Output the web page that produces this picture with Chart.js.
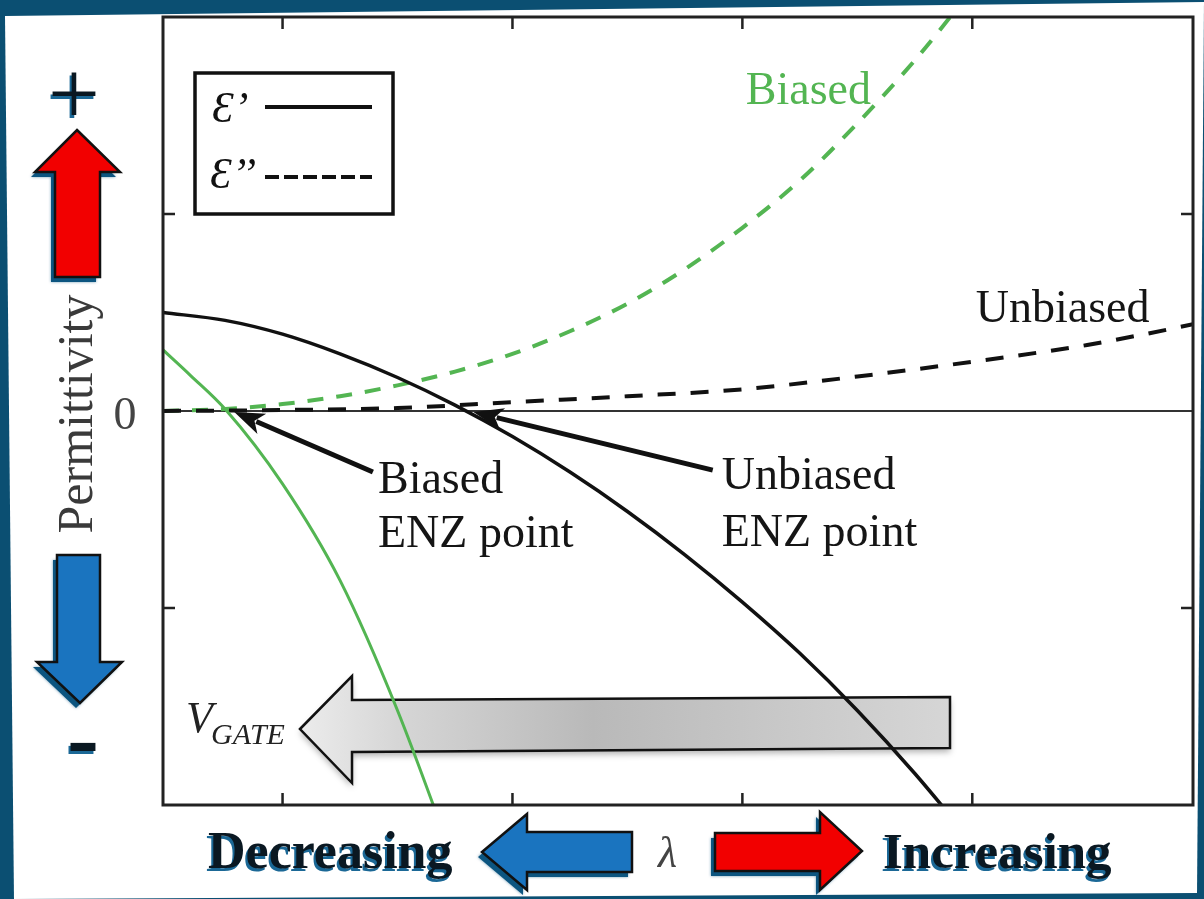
<!DOCTYPE html>
<html>
<head>
<meta charset="utf-8">
<script src="https://cdn.jsdelivr.net/npm/chart.js@4.4.1/dist/chart.umd.min.js"></script>
<style>
    html, body { margin: 0; padding: 0; background: #0b4f72; }
    canvas { display: block; }
</style>
</head>
<body>
<canvas id="chart" width="1204" height="899"></canvas>
<script>
// wavelength (arbitrary units) and permittivity (arbitrary units)
const lambdaRealUnbiased = [0.48, 0.75, 1.0, 1.25, 1.5, 1.75, 2.0, 2.25, 2.5, 2.75, 3.0, 3.25, 3.5, 3.75, 4.0];
const epsRealUnbiased = [0.50, 0.46, 0.39, 0.29, 0.17, 0.03, -0.13, -0.31, -0.51, -0.73, -0.97, -1.23, -1.52, -1.84, -2.19];

const lambdaRealBiased = [0.48, 0.6, 0.75, 1.0, 1.25, 1.5, 1.75];
const epsRealBiased = [0.31, 0.18, 0.01, -0.37, -0.86, -1.52, -2.30];

const lambdaImagUnbiased = [0.48, 1.0, 1.5, 2.0, 2.5, 3.0, 3.5, 4.0, 4.5, 4.75, 4.96];
const epsImagUnbiased = [0.0, 0.005, 0.015, 0.045, 0.075, 0.11, 0.175, 0.25, 0.335, 0.39, 0.44];

const lambdaImagBiased = [0.48, 0.75, 1.0, 1.25, 1.5, 1.75, 2.0, 2.25, 2.5, 2.75, 3.0, 3.25, 3.5, 3.75, 4.0];
const epsImagBiased = [0.0, 0.01, 0.035, 0.075, 0.13, 0.20, 0.29, 0.405, 0.545, 0.72, 0.93, 1.17, 1.46, 1.78, 2.14];

const xTicks = [1, 2, 3, 4];
const yTicks = [-1, 1];

// ENZ points (where eps' crosses zero)
const enzBiased = 0.79;
const enzUnbiased = 1.83;

const GREEN = "#53b552";
const SERIF = '"Liberation Serif", "DejaVu Serif", serif';

function toPoints(xs, ys) {
    return xs.map((x, i) => ({ x: x, y: ys[i] }));
}

function polyPath(ctx, pts) {
    ctx.beginPath();
    pts.forEach((p, i) => (i ? ctx.lineTo(p[0], p[1]) : ctx.moveTo(p[0], p[1])));
    ctx.closePath();
}

// block arrow with the dark blue 3D edge used on the slide
function blockArrow(ctx, pts, fill) {
    ctx.save();
    ctx.translate(-4, 5);
    polyPath(ctx, pts);
    ctx.fillStyle = "#0c5580";
    ctx.shadowColor = "rgba(12,85,128,0.6)";
    ctx.shadowBlur = 3;
    ctx.fill();
    ctx.restore();

    ctx.save();
    polyPath(ctx, pts);
    ctx.fillStyle = fill;
    ctx.fill();
    ctx.lineWidth = 2.5;
    ctx.strokeStyle = "#111";
    ctx.stroke();
    ctx.restore();
}

function shadowText(ctx, txt, x, y, font, align) {
    ctx.save();
    ctx.font = font;
    ctx.textAlign = align || "left";
    ctx.fillStyle = "#1b6896";
    ctx.fillText(txt, x - 2, y + 3);
    ctx.fillStyle = "#0a1822";
    ctx.fillText(txt, x, y);
    ctx.restore();
}

function pointer(ctx, x0, y0, x1, y1) {
    const ang = Math.atan2(y1 - y0, x1 - x0);
    const hl = 30, hw = 11;
    const bx = x1 - hl * Math.cos(ang);
    const by = y1 - hl * Math.sin(ang);
    ctx.save();
    ctx.beginPath();
    ctx.moveTo(x0, y0);
    ctx.lineTo(bx + 6 * Math.cos(ang), by + 6 * Math.sin(ang));
    ctx.lineWidth = 5;
    ctx.strokeStyle = "#111";
    ctx.stroke();
    ctx.beginPath();
    ctx.moveTo(x1, y1);
    ctx.lineTo(bx - hw * Math.sin(ang), by + hw * Math.cos(ang));
    ctx.lineTo(bx + 8 * Math.cos(ang), by + 8 * Math.sin(ang));
    ctx.lineTo(bx + hw * Math.sin(ang), by - hw * Math.cos(ang));
    ctx.closePath();
    ctx.fillStyle = "#111";
    ctx.fill();
    ctx.restore();
}

const slidePlugin = {
    id: "slide",
    beforeDraw(chart) {
        const ctx = chart.ctx;
        ctx.save();
        ctx.fillStyle = "#0b4f72";
        ctx.fillRect(0, 0, chart.width, chart.height);
        polyPath(ctx, [[5, 16], [1204, 2], [1197, 893], [14, 899]]);
        ctx.fillStyle = "#ffffff";
        ctx.fill();
        ctx.restore();
    },
    beforeDatasetsDraw(chart) {
        const ctx = chart.ctx;
        const a = chart.chartArea;
        const y0 = chart.scales.y.getPixelForValue(0);

        // zero line
        ctx.save();
        ctx.beginPath();
        ctx.moveTo(a.left, y0);
        ctx.lineTo(a.right, y0);
        ctx.lineWidth = 2;
        ctx.strokeStyle = "#333";
        ctx.stroke();

        // V_GATE arrow
        const pts = [[300, 729], [352, 676], [352, 700], [950, 697], [950, 748], [352, 752], [352, 783]];
        const g = ctx.createLinearGradient(300, 0, 950, 0);
        g.addColorStop(0, "#ececec");
        g.addColorStop(0.15, "#d6d6d6");
        g.addColorStop(0.45, "#b9b9b9");
        g.addColorStop(1, "#d6d6d6");
        ctx.shadowColor = "rgba(0,0,0,0.3)";
        ctx.shadowBlur = 6;
        ctx.shadowOffsetY = 4;
        polyPath(ctx, pts);
        ctx.fillStyle = g;
        ctx.fill();
        ctx.shadowColor = "transparent";
        ctx.lineWidth = 2.5;
        ctx.strokeStyle = "#111";
        ctx.stroke();
        ctx.restore();
    },
    afterDraw(chart) {
        const ctx = chart.ctx;
        const a = chart.chartArea;
        const xs = chart.scales.x;
        const ys = chart.scales.y;

        // frame and inward ticks
        ctx.save();
        ctx.strokeStyle = "#222";
        ctx.lineWidth = 3;
        ctx.strokeRect(a.left, a.top, a.right - a.left, a.bottom - a.top);
        ctx.lineWidth = 2.5;
        ctx.beginPath();
        xTicks.forEach((t) => {
            const p = xs.getPixelForValue(t);
            ctx.moveTo(p, a.bottom); ctx.lineTo(p, a.bottom - 12);
            ctx.moveTo(p, a.top); ctx.lineTo(p, a.top + 12);
        });
        yTicks.forEach((t) => {
            const p = ys.getPixelForValue(t);
            ctx.moveTo(a.left, p); ctx.lineTo(a.left + 12, p);
            ctx.moveTo(a.right, p); ctx.lineTo(a.right - 12, p);
        });
        ctx.stroke();

        // legend box
        ctx.lineWidth = 3.5;
        ctx.strokeStyle = "#111";
        ctx.strokeRect(195, 73, 198, 141);
        ctx.fillStyle = "#111";
        ctx.font = "italic 44px " + SERIF;
        ctx.fillText("Ɛ’", 212, 122);
        ctx.fillText("Ɛ’’", 210, 188);
        ctx.lineWidth = 4;
        ctx.beginPath();
        ctx.moveTo(265, 107); ctx.lineTo(372, 107);
        ctx.stroke();
        ctx.setLineDash([14, 5]);
        ctx.beginPath();
        ctx.moveTo(265, 177); ctx.lineTo(372, 177);
        ctx.stroke();
        ctx.setLineDash([]);

        // curve labels
        ctx.font = "46px " + SERIF;
        ctx.fillStyle = GREEN;
        ctx.fillText("Biased", xs.getPixelForValue(3.015), ys.getPixelForValue(1.558));
        ctx.fillStyle = "#151515";
        ctx.fillText("Unbiased", xs.getPixelForValue(4.015), ys.getPixelForValue(0.452));

        // ENZ point callouts
        ctx.fillText("Biased", xs.getPixelForValue(1.415), ys.getPixelForValue(-0.416));
        ctx.fillText("ENZ point", xs.getPixelForValue(1.415), ys.getPixelForValue(-0.69));
        ctx.fillText("Unbiased", xs.getPixelForValue(2.91), ys.getPixelForValue(-0.396));
        ctx.fillText("ENZ point", xs.getPixelForValue(2.91), ys.getPixelForValue(-0.685));
        pointer(ctx, xs.getPixelForValue(1.393), ys.getPixelForValue(-0.31),
            xs.getPixelForValue(enzBiased), ys.getPixelForValue(-0.005));
        pointer(ctx, xs.getPixelForValue(2.871), ys.getPixelForValue(-0.30),
            xs.getPixelForValue(enzUnbiased), ys.getPixelForValue(-0.005));

        // V_GATE label
        ctx.fillStyle = "#222";
        ctx.font = "italic 44px " + SERIF;
        ctx.fillText("V", 186, 732);
        ctx.font = "italic 30px " + SERIF;
        ctx.fillText("GATE", 211, 744);

        // y axis label and zero tick label
        ctx.fillStyle = "#444";
        ctx.font = "46px " + SERIF;
        ctx.textAlign = "center";
        ctx.fillText("0", 125, ys.getPixelForValue(0) + 18);
        ctx.save();
        ctx.translate(92, 414);
        ctx.rotate(-Math.PI / 2);
        ctx.fillStyle = "#3a3a3a";
        ctx.font = "50px " + SERIF;
        ctx.fillText("Permittivity", 0, 0);
        ctx.restore();
        ctx.restore();

        // left arrows: + up, - down
        blockArrow(ctx, [[77, 130], [120, 172], [100, 172], [100, 277], [55, 277], [55, 172], [35, 172]], "#f20000");
        blockArrow(ctx, [[57, 555], [100, 555], [100, 662], [122, 662], [80, 703], [37, 662], [57, 662]], "#1a74bf");
        shadowText(ctx, "+", 74, 124, "92px " + SERIF, "center");
        shadowText(ctx, "-", 83, 769, "bold 96px " + SERIF, "center");

        // bottom row: Decreasing <- lambda -> Increasing
        blockArrow(ctx, [[482, 852], [527, 814], [527, 832], [632, 832], [632, 872], [527, 872], [527, 890]], "#1a74bf");
        blockArrow(ctx, [[715, 833], [820, 833], [820, 812], [862, 851], [820, 890], [820, 871], [715, 871]], "#f20000");
        shadowText(ctx, "Decreasing", 208, 868, "bold 52px " + SERIF);
        shadowText(ctx, "Increasing", 883, 868, "bold 51px " + SERIF);
        ctx.save();
        ctx.fillStyle = "#444";
        ctx.font = "italic 44px " + SERIF;
        ctx.fillText("λ", 658, 867);
        ctx.restore();
    }
};

new Chart(document.getElementById("chart"), {
    type: "line",
    data: {
        datasets: [
            {
                label: "ε' unbiased",
                data: toPoints(lambdaRealUnbiased, epsRealUnbiased),
                borderColor: "#111",
                borderWidth: 3.5,
            },
            {
                label: "ε' biased",
                data: toPoints(lambdaRealBiased, epsRealBiased),
                borderColor: GREEN,
                borderWidth: 3,
            },
            {
                label: "ε'' unbiased",
                data: toPoints(lambdaImagUnbiased, epsImagUnbiased),
                borderColor: "#111",
                borderWidth: 4,
                borderDash: [18, 15],
            },
            {
                label: "ε'' biased",
                data: toPoints(lambdaImagBiased, epsImagBiased),
                borderColor: GREEN,
                borderWidth: 4,
                borderDash: [16, 13],
            },
        ],
    },
    options: {
        responsive: false,
        animation: false,
        devicePixelRatio: 1,
        layout: { padding: { left: 163, right: 11, top: 17, bottom: 94 } },
        elements: {
            point: { radius: 0 },
            line: { cubicInterpolationMode: "monotone", fill: false },
        },
        datasets: { line: { clip: 0 } },
        plugins: {
            legend: { display: false },
            tooltip: { enabled: false },
        },
        scales: {
            x: { type: "linear", min: 0.48, max: 4.96, display: false },
            y: { type: "linear", min: -2, max: 2, display: false },
        },
    },
    plugins: [slidePlugin],
});
</script>
</body>
</html>
